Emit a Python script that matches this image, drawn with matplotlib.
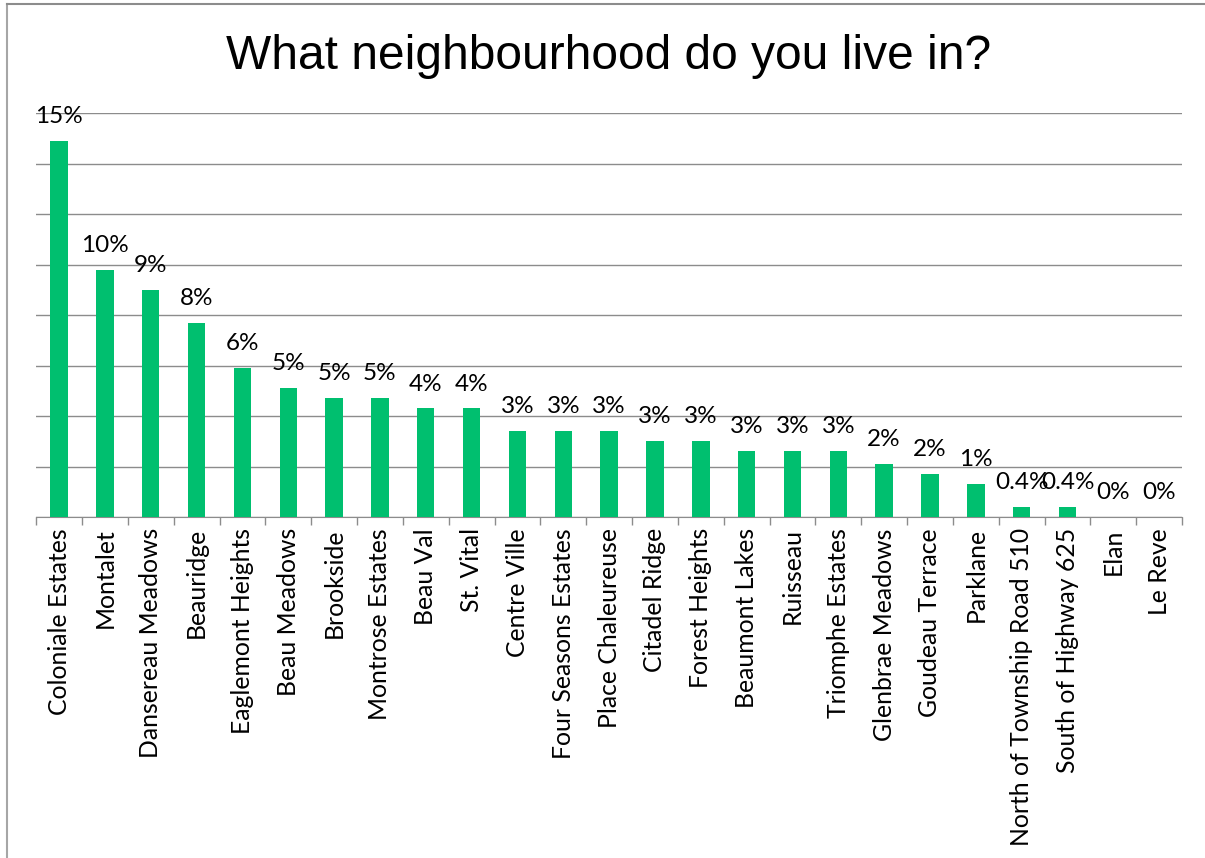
'''
What neighbourhood do you live in? - bar chart
'''

from matplotlib import pyplot as plt
from matplotlib.lines import Line2D

# neighbourhoods and share of respondents (%)
neighbourhoods = ['Coloniale Estates', 'Montalet', 'Dansereau Meadows', 'Beauridge',
                  'Eaglemont Heights', 'Beau Meadows', 'Brookside', 'Montrose Estates',
                  'Beau Val', 'St. Vital', 'Centre Ville', 'Four Seasons Estates',
                  'Place Chaleureuse', 'Citadel Ridge', 'Forest Heights', 'Beaumont Lakes',
                  'Ruisseau', 'Triomphe Estates', 'Glenbrae Meadows', 'Goudeau Terrace',
                  'Parklane', 'North of Township Road 510', 'South of Highway 625',
                  'Elan', 'Le Reve']
shares = [14.9, 9.8, 9.0, 7.7, 5.9, 5.1, 4.7, 4.7, 4.3, 4.3, 3.4, 3.4, 3.4, 3.0, 3.0,
          2.6, 2.6, 2.6, 2.1, 1.7, 1.3, 0.4, 0.4, 0.0, 0.0]
share_labels = ['15%', '10%', '9%', '8%', '6%', '5%', '5%', '5%', '4%', '4%', '3%', '3%',
                '3%', '3%', '3%', '3%', '3%', '3%', '2%', '2%', '1%', '0.4%', '0.4%',
                '0%', '0%']

GREEN = '#00bf6f'
GRID = '#8c8c8c'


def create_chart():
    plt.rcParams['font.family'] = ['Lato', 'DejaVu Sans']
    fig = plt.figure(figsize=(12.05, 8.58), dpi=100)
    ax = fig.add_axes([0.030, 0.3974, 0.951, 0.4709])

    n = len(neighbourhoods)
    x = list(range(n))
    ax.bar(x, shares, width=0.38, color=GREEN, zorder=3)

    for xi, v, lab in zip(x, shares, share_labels):
        ax.text(xi, v + 0.55, lab, ha='center', va='bottom', fontsize=17.5, color='black')

    ax.set_xlim(-0.5, n - 0.5)
    ax.set_ylim(0, 16)
    ax.set_yticks(range(0, 17, 2))
    ax.yaxis.grid(True, color=GRID, linewidth=1.0, zorder=0)
    ax.tick_params(axis='y', length=0, labelleft=False)

    # category labels between boundary ticks
    ax.set_xticks(x)
    ax.set_xticklabels(neighbourhoods, rotation=90, fontsize=17.8)
    ax.tick_params(axis='x', which='major', length=0, pad=8)
    ax.set_xticks([i - 0.5 for i in range(n + 1)], minor=True)
    ax.tick_params(axis='x', which='minor', length=6, color=GRID, width=1.0)

    for s in ['top', 'right', 'left']:
        ax.spines[s].set_visible(False)
    ax.spines['bottom'].set_color(GRID)

    fig.text(0.505, 0.934, 'What neighbourhood do you live in?', ha='center', va='center',
             fontsize=34.5, family=['Liberation Sans', 'DejaVu Sans'])

    # chart border
    fig.add_artist(Line2D([0.0062, 0.0062], [0.0, 0.9953], color='#a6a6a6', linewidth=1.5))
    fig.add_artist(Line2D([0.0062, 1.0], [0.9953, 0.9953], color='#8c8c8c', linewidth=1.5))

    fig.savefig('out.png', dpi=100)


if __name__ == '__main__':
    create_chart()
